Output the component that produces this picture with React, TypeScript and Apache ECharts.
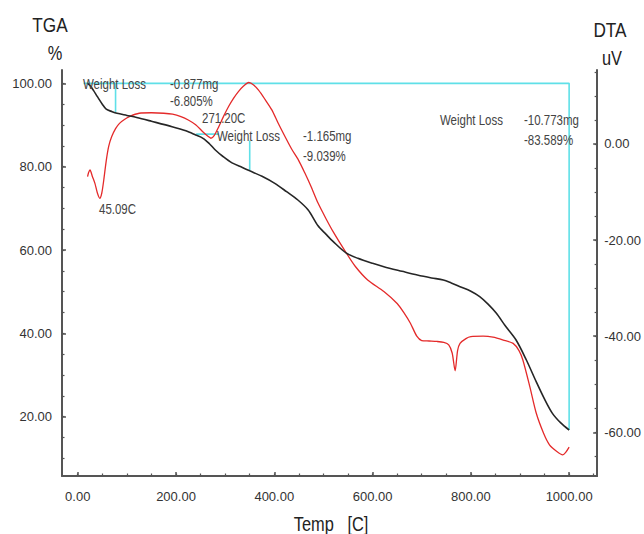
import React, { useEffect, useRef } from "react";
import * as echarts from "echarts";

// TGA curve (weight %, left axis)
const tgaTemp = [20, 25, 32, 40, 50, 58, 70, 80, 100, 120, 150, 192, 220, 240, 255, 268, 280, 295, 314, 335, 350, 375, 401, 425, 448, 469, 489, 505, 520, 546, 570, 600, 623, 660, 691, 720, 744, 760, 778, 800, 818, 835, 852, 870, 892, 913, 933, 950, 966, 983, 1000];
const tgaPct = [100, 99.5, 98.3, 96.8, 95, 93.8, 93.2, 92.8, 92.3, 91.8, 90.9, 89.6, 88.6, 87.6, 86.8, 85.5, 84, 82.5, 80.9, 79.8, 79, 77.7, 76, 74, 72, 69.6, 65.8, 63.8, 62, 59.3, 58, 56.8, 56, 54.9, 54, 53.3, 52.8, 52.1, 51.2, 50.1, 48.8, 47, 44.8, 41.8, 38.4, 33.6, 28.4, 24.2, 20.8, 18.5, 16.8];

// DTA curve (uV, right axis)
const dtaTemp = [20, 22, 25, 30, 35, 40, 45, 49, 53, 58, 63, 69, 77, 85, 95, 105, 125, 150, 175, 193, 210, 225, 240, 255, 265, 271, 278, 287, 297, 307, 317, 327, 338, 348, 358, 368, 381, 395, 408, 422, 435, 449, 462, 475, 489, 505, 520, 546, 565, 590, 623, 650, 665, 677, 690, 700, 715, 731, 745, 755, 762, 768, 773, 778, 790, 800, 825, 845, 866, 886, 898, 906, 920, 933, 948, 960, 975, 987, 993, 1000];
const dtaUV = [-6.8, -6.0, -5.4, -6.8, -8.2, -10.2, -11.3, -10.2, -7.5, -3.5, -0.5, 1.5, 3.2, 4.3, 5.1, 5.7, 6.4, 6.5, 6.4, 6.2, 5.7, 5.0, 4.0, 2.5, 1.6, 1.2, 1.8, 3.6, 5.8, 7.8, 9.5, 10.9, 12.1, 12.8, 12.3, 11.2, 9.3, 7.1, 4.3, 1.5, -1.0, -3.3, -6.0, -8.9, -12.3, -15.5, -18.3, -22.6, -25.5, -28.3, -30.7, -33.2, -35.3, -37.3, -40.0, -40.9, -41.0, -41.1, -41.3, -41.8, -43.5, -47.2, -43.0, -41.5, -40.5, -40.1, -40.0, -40.2, -40.8, -41.5, -43.0, -45.0, -50.5, -56.0, -60.2, -62.6, -64.0, -64.7, -64.2, -63.1];

// Weight loss step markers (temp, %)
const weightLossSegments: number[][][] = [
  [[12, 100], [1000, 100], [1000, 16.8]],
  [[77, 100], [77, 93.1]],
  [[241, 87.8], [287, 87.8]],
  [[350, 86.3], [350, 79]],
];

// Ticks
const xTickValues = [0, 200, 400, 600, 800, 1000];
const xMinorValues = [0, 50, 100, 150, 200, 250, 300, 350, 400, 450, 500, 550, 600, 650, 700, 750, 800, 850, 900, 950, 1000, 1050];
const tgaTickValues = [20, 40, 60, 80, 100];
const tgaMinorValues = [10, 15, 20, 25, 30, 35, 40, 45, 50, 55, 60, 65, 70, 75, 80, 85, 90, 95, 100];
const dtaTickValues = [-60, -40, -20, 0];
const dtaMinorValues = [-65, -60, -55, -50, -45, -40, -35, -30, -25, -20, -15, -10, -5, 0, 5, 10, 15];

// Annotation texts
const annotations = [
  { text: "Weight Loss", x: 83, y: 84 },
  { text: "-0.877mg", x: 170, y: 84 },
  { text: "-6.805%", x: 170, y: 101 },
  { text: "271.20C", x: 202, y: 118 },
  { text: "Weight Loss", x: 217, y: 136 },
  { text: "-1.165mg", x: 303, y: 136 },
  { text: "-9.039%", x: 303, y: 156 },
  { text: "45.09C", x: 99, y: 209 },
  { text: "Weight Loss", x: 440, y: 120 },
  { text: "-10.773mg", x: 524, y: 120 },
  { text: "-83.589%", x: 524, y: 140 },
];

const FONT = '"Liberation Sans", Arial, sans-serif';
const AXIS_COLOR = "#555";
const TEXT_COLOR = "#333";
const NARROW = 0.82;

export default function App() {
  const ref = useRef<HTMLDivElement>(null);
  useEffect(() => {
    if (!ref.current) return;
    const chart = echarts.init(ref.current, null, { renderer: "svg" });
    const X_MIN = -32, X_MAX = 1057;
    const L_MIN = 5.76, L_MAX = 103.2;
    const R_MIN = -69.1, R_MAX = 15.4;
    const fmt = (v: number) => v.toFixed(2);
    const axisLine = { show: true, onZero: false, lineStyle: { color: AXIS_COLOR, width: 2 } };
    const noLine = { show: false, onZero: false };
    const labelStyle = { color: TEXT_COLOR, fontFamily: FONT, fontSize: 13 };

    const option: any = {
      animation: false,
      backgroundColor: "#fff",
      grid: { left: 62, right: 43, top: 70, bottom: 58 },
      xAxis: [
        {
          type: "value", min: X_MIN, max: X_MAX, position: "bottom",
          axisLine,
          splitLine: { show: false },
          axisTick: { show: true, inside: true, length: 4, lineStyle: { color: AXIS_COLOR, width: 1.5 }, customValues: xTickValues },
          axisLabel: { ...labelStyle, margin: 14, formatter: fmt, customValues: xTickValues },
        },
        {
          type: "value", min: X_MIN, max: X_MAX, position: "bottom",
          axisLine: noLine,
          splitLine: { show: false },
          axisTick: { show: true, inside: true, length: 2.5, lineStyle: { color: AXIS_COLOR, width: 1.2 }, customValues: xMinorValues },
          axisLabel: { show: false },
        },
      ],
      yAxis: [
        {
          type: "value", min: L_MIN, max: L_MAX, position: "left",
          axisLine, splitLine: { show: false },
          axisTick: { show: true, inside: true, length: 4, lineStyle: { color: AXIS_COLOR, width: 1.5 }, customValues: tgaTickValues },
          axisLabel: { ...labelStyle, margin: 10, formatter: fmt, customValues: tgaTickValues },
        },
        {
          type: "value", min: L_MIN, max: L_MAX, position: "left",
          axisLine: noLine, splitLine: { show: false },
          axisTick: { show: true, inside: true, length: 2.5, lineStyle: { color: AXIS_COLOR, width: 1.2 }, customValues: tgaMinorValues },
          axisLabel: { show: false },
        },
        {
          type: "value", min: R_MIN, max: R_MAX, position: "right",
          axisLine, splitLine: { show: false },
          axisTick: { show: true, inside: true, length: 4, lineStyle: { color: AXIS_COLOR, width: 1.5 }, customValues: dtaTickValues },
          axisLabel: { ...labelStyle, margin: 7, formatter: fmt, customValues: dtaTickValues },
        },
        {
          type: "value", min: R_MIN, max: R_MAX, position: "right",
          axisLine: noLine, splitLine: { show: false },
          axisTick: { show: true, inside: true, length: 2.5, lineStyle: { color: AXIS_COLOR, width: 1.2 }, customValues: dtaMinorValues },
          axisLabel: { show: false },
        },
      ],
      series: [
        ...weightLossSegments.map((seg, i) => ({
          name: "wl" + i,
          type: "line",
          xAxisIndex: 0,
          yAxisIndex: 0,
          data: seg,
          symbol: "none",
          silent: true,
          lineStyle: { color: "#5fe0e8", width: 1.6 },
          z: 1,
        })),
        {
          name: "TGA",
          type: "line",
          xAxisIndex: 0,
          yAxisIndex: 0,
          data: tgaTemp.map((t, i) => [t, tgaPct[i]]),
          symbol: "none",
          smooth: 0.3,
          lineStyle: { color: "#262626", width: 1.6 },
          z: 3,
        },
        {
          name: "DTA",
          type: "line",
          xAxisIndex: 0,
          yAxisIndex: 2,
          data: dtaTemp.map((t, i) => [t, dtaUV[i]]),
          symbol: "none",
          smooth: 0.25,
          lineStyle: { color: "#e42a2a", width: 1.3 },
          z: 2,
        },
      ],
      graphic: [
        ...annotations.map((a) => ({
          type: "text",
          x: a.x,
          y: a.y,
          scaleX: NARROW,
          z: 10,
          style: { text: a.text, fill: "#444", fontFamily: FONT, fontSize: 14, textAlign: "left", textVerticalAlign: "middle" },
        })),
        { type: "text", x: 50, y: 25, scaleX: NARROW, style: { text: "TGA", fill: "#222", fontFamily: FONT, fontSize: 21, textAlign: "center", textVerticalAlign: "middle" } },
        { type: "text", x: 55, y: 53, scaleX: NARROW, style: { text: "%", fill: "#222", fontFamily: FONT, fontSize: 20, textAlign: "center", textVerticalAlign: "middle" } },
        { type: "text", x: 610, y: 30, scaleX: NARROW, style: { text: "DTA", fill: "#222", fontFamily: FONT, fontSize: 21, textAlign: "center", textVerticalAlign: "middle" } },
        { type: "text", x: 612, y: 58, scaleX: NARROW, style: { text: "uV", fill: "#222", fontFamily: FONT, fontSize: 20, textAlign: "center", textVerticalAlign: "middle" } },
        { type: "text", x: 331, y: 524, scaleX: NARROW, style: { text: "Temp   [C]", fill: "#222", fontFamily: FONT, fontSize: 20, textAlign: "center", textVerticalAlign: "middle" } },
      ],
    };
    chart.setOption(option);
    return () => chart.dispose();
  }, []);
  return <div ref={ref} style={{ position: "fixed", left: 0, top: 0, width: 644, height: 534, background: "#fff" }} />;
}
